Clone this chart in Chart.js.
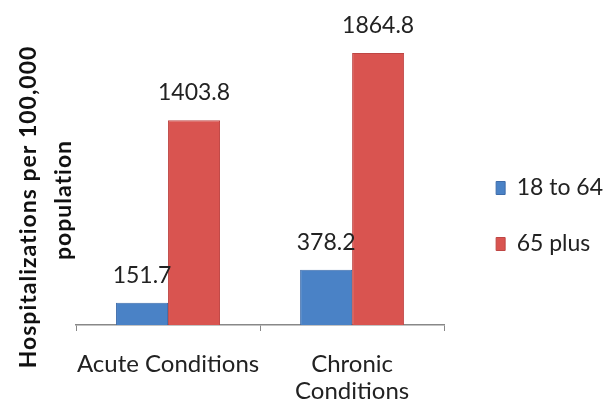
<!DOCTYPE html>
<html lang="en">
<head>
    <meta charset="UTF-8">
    <title>Hospitalizations</title>
    <script src="https://cdn.jsdelivr.net/npm/chart.js"></script>
    <style>
        body { margin: 0; background: white; }
    </style>
</head>
<body>
    <canvas id="hospChart" width="613" height="409"></canvas>

    <script>
        // Chart data
        const categories = [['Acute Conditions'], ['Chronic', 'Conditions']];
        const seriesNames = ['18 to 64', '65 plus'];
        const ages18to64 = [151.7, 378.2];
        const ages65plus = [1403.8, 1864.8];
        const yTitleLines = ['Hospitalizations per 100,000', 'population'];

        const fontName = 'Lato, "Liberation Sans", sans-serif';

        // Draws the value above each bar
        const valueLabels = {
            id: 'valueLabels',
            afterDatasetsDraw(chart) {
                const ctx = chart.ctx;
                ctx.save();
                ctx.font = '23px ' + fontName;
                ctx.fillStyle = '#222';
                ctx.textAlign = 'center';
                ctx.textBaseline = 'alphabetic';
                chart.data.datasets.forEach((ds, i) => {
                    chart.getDatasetMeta(i).data.forEach((bar, j) => {
                        ctx.fillText(ds.data[j].toFixed(1), bar.x, bar.y - 20);
                    });
                });
                ctx.restore();
            }
        };

        // Rotated two-line axis title on the left
        const yTitle = {
            id: 'yTitle',
            afterDraw(chart) {
                const ctx = chart.ctx;
                ctx.save();
                ctx.font = 'bold 23px ' + fontName;
                ctx.letterSpacing = '1px';
                ctx.fillStyle = '#111';
                ctx.textAlign = 'center';
                ctx.textBaseline = 'alphabetic';
                ctx.translate(36, 207);
                ctx.rotate(-Math.PI / 2);
                ctx.fillText(yTitleLines[0], 0, 0);
                ctx.fillText(yTitleLines[1], 7, 35);
                ctx.restore();
            }
        };

        new Chart(document.getElementById('hospChart'), {
            type: 'bar',
            data: {
                labels: categories,
                datasets: [
                    {
                        label: seriesNames[0],
                        data: ages18to64,
                        backgroundColor: 'rgb(74, 130, 198)',
                        borderColor: 'rgb(62, 108, 170)',
                        borderWidth: 1
                    },
                    {
                        label: seriesNames[1],
                        data: ages65plus,
                        backgroundColor: 'rgb(217, 84, 80)',
                        borderColor: 'rgb(190, 70, 68)',
                        borderWidth: 1
                    }
                ]
            },
            options: {
                responsive: false,
                animation: false,
                devicePixelRatio: 1,
                layout: { padding: { left: 76, top: 23, right: 0, bottom: 0 } },
                datasets: {
                    bar: { categoryPercentage: 0.565, barPercentage: 1.0 }
                },
                scales: {
                    x: {
                        grid: {
                            drawOnChartArea: false,
                            drawTicks: true,
                            tickLength: 6,
                            color: '#888'
                        },
                        border: { color: '#888', width: 1.5 },
                        ticks: {
                            color: '#222',
                            padding: 20,
                            autoSkip: false,
                            font: { family: fontName, size: 24, lineHeight: 1.125 },
                            maxRotation: 0
                        },
                        afterFit(scale) { scale.height = 84; }
                    },
                    y: {
                        // invisible, only keeps a gap before the legend
                        position: 'right',
                        min: 0,
                        max: 2070,
                        grid: { display: false },
                        border: { display: false },
                        ticks: { display: false },
                        afterFit(scale) { scale.width = 19; }
                    }
                },
                plugins: {
                    legend: {
                        position: 'right',
                        maxWidth: 220,
                        labels: {
                            boxWidth: 9,
                            boxHeight: 13,
                            padding: 33,
                            color: '#222',
                            font: { family: fontName, size: 23 }
                        }
                    },
                    tooltip: { enabled: false }
                }
            },
            plugins: [valueLabels, yTitle]
        });
    </script>
</body>
</html>
